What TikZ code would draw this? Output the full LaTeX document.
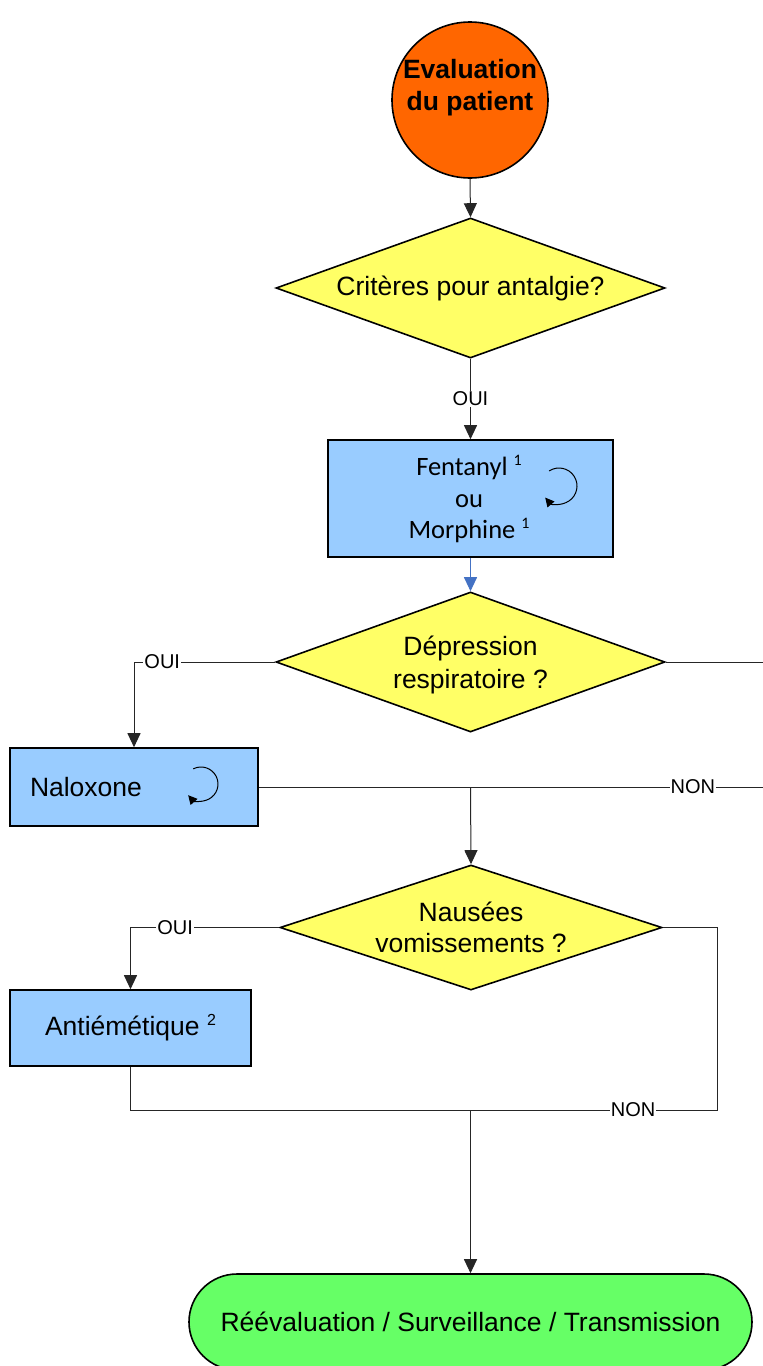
\documentclass[tikz,border=0pt]{standalone}
\usepackage{fontspec}
\setmainfont{Liberation Sans}
\newfontfamily\calib{Carlito}
\usetikzlibrary{shapes.geometric,arrows.meta,calc}
\definecolor{dorange}{HTML}{FF6600}
\definecolor{dyellow}{HTML}{FFFF66}
\definecolor{dblue}{HTML}{99CCFF}
\definecolor{dgreen}{HTML}{66FF66}
\definecolor{arrowblue}{HTML}{4472C4}
\newcommand\supnum[1]{\raisebox{10pt}{\fontsize{16}{16}\selectfont #1}}
\begin{document}
\begin{tikzpicture}[x=1pt,y=-1pt,
  shapeline/.style={draw=black,line width=1.6pt},
  conn/.style={draw=black!85,line width=1pt},
  arr/.style={conn,-{Triangle[length=14pt,width=13pt]}},
  decision/.style={shapeline,diamond,shape aspect=2.78,fill=dyellow,inner sep=0pt,minimum width=389pt,minimum height=140pt,align=center,font=\fontsize{26.5}{33}\selectfont},
  action/.style={shapeline,rectangle,fill=dblue,inner sep=0pt,align=center,font=\fontsize{26.5}{31.5}\selectfont},
  lbl/.style={fill=white,inner sep=1pt,font=\fontsize{20}{22}\selectfont},
  loopicon/.style={draw=black,line width=1pt,-{Triangle[length=9pt,width=9pt]}},
  ]
\useasboundingbox (0,0) rectangle (763,1366);
\fill[white] (0,0) rectangle (763,1366);

% nodes
\node[shapeline,circle,fill=dorange,minimum size=156pt,inner sep=0pt] (start) at (470,100) {};
\node[align=center,font=\bfseries\fontsize{26.5}{32}\selectfont] (starttext) at (470,88) {Evaluation\\du patient};

\node[decision] (d1) at (470.5,288) {Critères pour antalgie?};

\node[action,minimum width=285pt,minimum height=117pt] (fent) at (470.5,498.5) {};
\node[align=center,font=\calib\fontsize{26.5}{31.5}\selectfont] (fenttext) at (469,499) {Fentanyl\ \supnum{1}\\ou\\Morphine\ \supnum{1}};

\node[decision] (d2) at (470.5,662) {\mbox{}\\[-7pt]Dépression\\respiratoire ?};

\node[action,minimum width=248pt,minimum height=78pt,text width=208pt,align=left,inner xsep=20pt] (nal) at (134,787) {Naloxone};

\node[decision,shape aspect=3.06,minimum width=382pt,minimum height=125pt,font=\fontsize{26.5}{31}\selectfont] (d3) at (471,927.5) {Nausées\\vomissements ?};

\node[action,minimum width=241pt,minimum height=76pt] (anti) at (130.5,1028) {Antiémétique\ \supnum{2}};

\node[shapeline,fill=dgreen,rectangle,rounded corners=48pt,minimum width=563pt,minimum height=96pt,inner sep=0pt,font=\fontsize{26.5}{31}\selectfont] (end) at (470.5,1322) {Réévaluation / Surveillance / Transmission};

% loop icons
\draw[loopicon] (559,486) ++(123:18pt) arc[start angle=123,end angle=-140,radius=18pt];
\draw[loopicon] (201,784) ++(117:17pt) arc[start angle=117,end angle=-139,radius=17pt];

% coordinates
\coordinate (rr) at (775,787);
\coordinate (j1) at (470.5,787);
\coordinate (rc) at (717,1110);
\coordinate (j2) at (470.5,1110);

% connectors
\draw[arr] (start.south) -- (d1.north);
\draw[arr] (d1.south) -- node[lbl]{OUI} (fent.north);
\draw[arr,draw=arrowblue,-{Triangle[length=14pt,width=13pt,fill=arrowblue]}] (fent.south) -- (d2.north);
\draw[arr] (d2.west) -| node[lbl,pos=0.4]{OUI} (nal.north);
\draw[conn] (d2.east) -| (rr) -- node[lbl,pos=0.27]{NON} (j1);
\draw[conn] (nal.east) -- (j1);
\draw[arr] (j1) -- (d3.north);
\draw[arr] (d3.west) -| node[lbl,pos=0.35]{OUI} (anti.north);
\draw[conn] (d3.east) -| (rc) -- node[lbl,pos=0.34]{NON} (j2);
\draw[conn] (anti.south) |- (j2);
\draw[arr] (j2) -- (end.north);
\end{tikzpicture}
\end{document}
